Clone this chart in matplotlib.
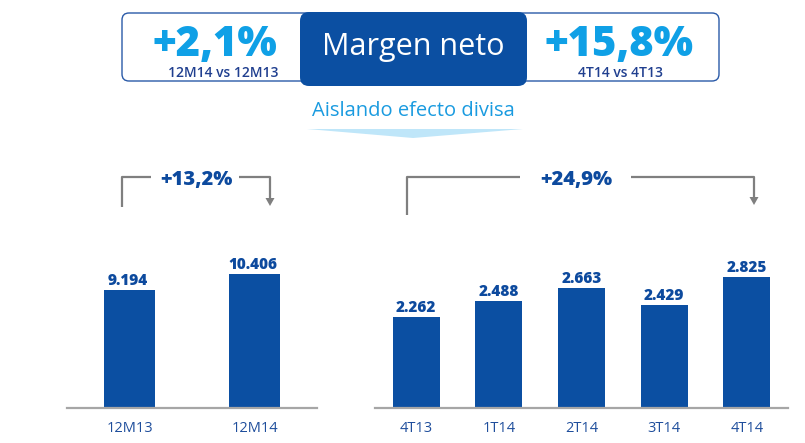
import matplotlib
matplotlib.use("Agg")
import matplotlib.pyplot as plt
from matplotlib.patches import FancyBboxPatch, Polygon

plt.rcParams['font.family'] = ['Open Sans', 'DejaVu Sans']

# ---- data ----
annual_labels = ["12M13", "12M14"]
annual_values = [9194, 10406]
quarter_labels = ["4T13", "1T14", "2T14", "3T14", "4T14"]
quarter_values = [2262, 2488, 2663, 2429, 2825]
header_left_value = "+2,1%"
header_left_sub = "12M14 vs 12M13"
header_title = "Margen neto"
header_right_value = "+15,8%"
header_right_sub = "4T14 vs 4T13"
subtitle = "Aislando efecto divisa"
annual_growth = "+13,2%"
quarter_growth = "+24,9%"

def fmt(v):
    return f"{v:,}".replace(",", ".")

BAR = "#0b4fa2"
LABEL = "#0d4a9e"
TICK = "#1f4e9c"
GRAY = "#7f7f7f"
AXIS = "#a6a6a6"
LIGHT = "#0fa0e6"

W, H = 805, 443
fig = plt.figure(figsize=(W / 100, H / 100), dpi=100)

def px_axes(x0, x1, ybase, ytop):
    return fig.add_axes([x0 / W, (H - ybase) / H, (x1 - x0) / W, (ybase - ytop) / H])

def style(ax):
    for s in ["top", "right", "left"]:
        ax.spines[s].set_visible(False)
    ax.spines["bottom"].set_color(AXIS)
    ax.spines["bottom"].set_linewidth(1.6)
    ax.set_yticks([])
    ax.tick_params(axis="x", length=0, pad=9.5, labelsize=10.5, labelcolor=TICK)
    for t in ax.get_xticklabels():
        t.set_fontweight("medium")
    ax.patch.set_alpha(0)

# left chart
axL = px_axes(67, 317, 408, 250)
xl = range(len(annual_values))
barsL = axL.bar(xl, annual_values, width=0.41, color=BAR)
axL.set_xlim(-0.5, 1.5)
axL.set_ylim(0, 12315)
axL.set_xticks(list(xl), annual_labels)
style(axL)
for b, v in zip(barsL, annual_values):
    axL.annotate(fmt(v), (b.get_x() + b.get_width() / 2, v), xytext=(-1, 1),
                 textcoords="offset points", ha="center", va="bottom",
                 fontsize=11, fontweight="heavy", color=LABEL)

# right chart
axR = px_axes(375, 788, 408, 250)
xr = range(len(quarter_values))
barsR = axR.bar(xr, quarter_values, width=0.57, color=BAR)
axR.set_xlim(-0.5, 4.5)
axR.set_ylim(980, 3205)
axR.set_xticks(list(xr), quarter_labels)
style(axR)
for b, v in zip(barsR, quarter_values):
    axR.annotate(fmt(v), (b.get_x() + b.get_width() / 2, v), xytext=(0, 1),
                 textcoords="offset points", ha="center", va="bottom",
                 fontsize=11, fontweight="heavy", color=LABEL)

# overlay in pixel coordinates for decorations
ov = fig.add_axes([0, 0, 1, 1])
ov.set_xlim(0, W)
ov.set_ylim(H, 0)
ov.axis("off")
ov.patch.set_alpha(0)

outer = FancyBboxPatch((122, 13), 597, 68, boxstyle="round,pad=0,rounding_size=7",
                       fc="white", ec="#2a5aa8", lw=1.0)
ov.add_patch(outer)
center = FancyBboxPatch((300, 12), 227, 74, boxstyle="round,pad=0,rounding_size=9",
                        fc=BAR, ec="none")
ov.add_patch(center)
ov.text(413, 47, header_title, color="white", fontsize=22, fontweight="medium",
        ha="center", va="center")
ov.text(215, 45, header_left_value, color=LIGHT, fontsize=30, fontweight="heavy",
        ha="center", va="center")
ov.text(223, 73, header_left_sub, color="#203f8f", fontsize=10, fontweight="semibold",
        ha="center", va="center")
ov.text(619, 45, header_right_value, color=LIGHT, fontsize=30, fontweight="heavy",
        ha="center", va="center")
ov.text(620, 73, header_right_sub, color="#203f8f", fontsize=10, fontweight="semibold",
        ha="center", va="center")

ov.text(413, 111, subtitle, color="#1a9be0", fontsize=14.5, fontweight="medium",
        ha="center", va="center")
ov.add_patch(Polygon([(307, 129), (523, 129), (413, 138)], closed=True,
                     fc="#bfe6f9", ec="none"))

def bracket(xa, xb, ya, yb, ytop, tx0, tx1, label, tcx):
    ov.plot([xa, xa, tx0], [ya, ytop, ytop], color=GRAY, lw=1.6, solid_capstyle="butt")
    ov.plot([tx1, xb, xb], [ytop, ytop, yb - 7], color=GRAY, lw=1.6, solid_capstyle="butt")
    ov.add_patch(Polygon([(xb - 4.5, yb - 8), (xb + 4.5, yb - 8), (xb, yb)], closed=True,
                         fc=GRAY, ec="none"))
    ov.text(tcx, ytop + 3, label, color=LABEL, fontsize=14.5, fontweight="heavy",
            ha="center", va="center")

bracket(122, 270, 207, 206, 177, 151, 239, annual_growth, 196)
bracket(407, 754, 215, 205, 177, 520, 631, quarter_growth, 576)

fig.savefig("out.png", dpi=100)
